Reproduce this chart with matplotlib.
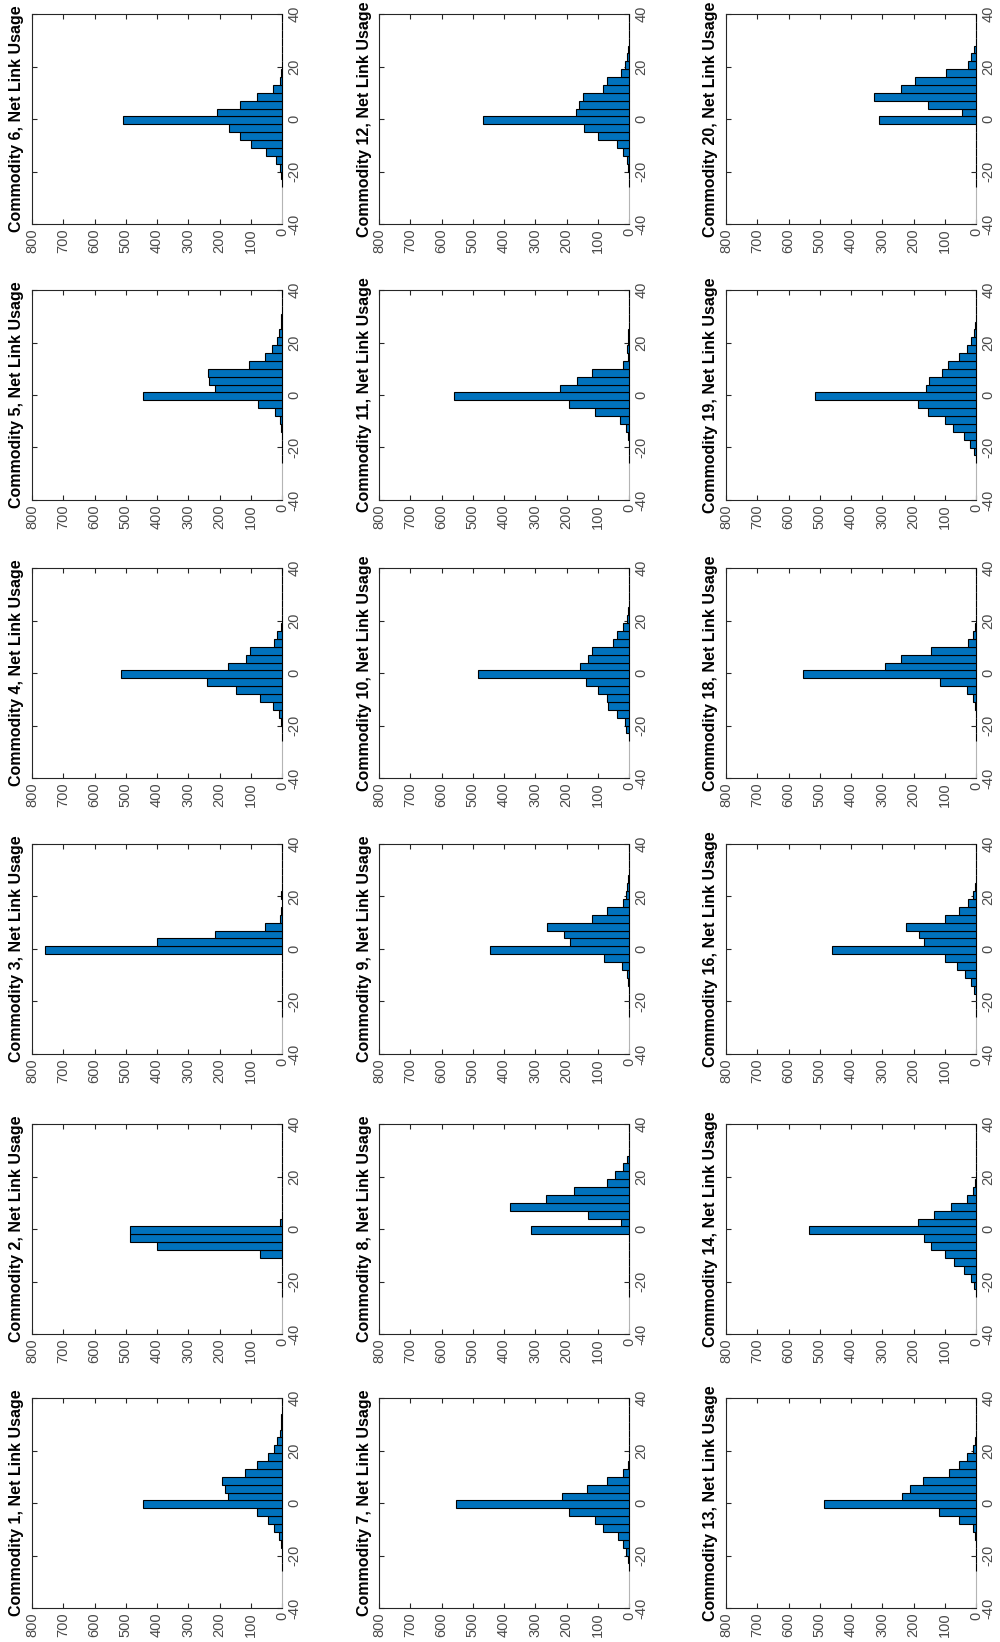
import matplotlib
matplotlib.use("Agg")
import matplotlib.pyplot as plt
import numpy as np

plt.rcParams['font.family'] = ['Liberation Sans', 'DejaVu Sans']
plt.rcParams['axes.unicode_minus'] = False

# histogram bin edges (net link usage)
edges = [-26, -23, -20, -17, -14, -11, -8, -5, -2, 1, 4, 7, 10, 13, 16, 19, 22, 25, 28, 31, 34, 37, 40]

commodities = [1, 2, 3, 4, 5, 6, 7, 8, 9, 10, 11, 12, 13, 14, 16, 18, 19, 20]

# counts per bin, one list per commodity
c1 = [0, 0, 1, 4, 11, 27, 45, 80, 446, 174, 183, 191, 119, 80, 45, 27, 15, 5, 2, 2, 1, 1]
c2 = [0, 0, 0, 0, 0, 71, 399, 486, 486, 5, 0, 0, 0, 0, 0, 0, 0, 0, 0, 0, 0, 0]
c3 = [0, 0, 0, 0, 0, 0, 1, 1, 760, 401, 213, 55, 7, 4, 1, 3, 1, 1, 0, 0, 0, 0]
c4 = [0, 1, 4, 11, 29, 71, 146, 239, 515, 174, 114, 103, 27, 16, 3, 1, 0, 0, 0, 0, 0, 0]
c5 = [0, 0, 0, 1, 3, 7, 23, 77, 444, 213, 233, 238, 105, 53, 31, 15, 10, 3, 2, 1, 1, 1]
c6 = [1, 3, 7, 18, 52, 98, 133, 169, 510, 207, 133, 79, 29, 7, 2, 0, 0, 0, 0, 0, 0, 0]
c7 = [0, 2, 9, 18, 35, 82, 110, 191, 553, 216, 133, 69, 18, 2, 0, 0, 0, 0, 0, 0, 0, 0]
c8 = [0, 0, 0, 0, 0, 0, 0, 0, 314, 27, 131, 381, 266, 176, 71, 46, 18, 5, 0, 0, 0, 0]
c9 = [0, 0, 1, 1, 2, 5, 24, 80, 444, 189, 207, 261, 117, 69, 20, 11, 7, 3, 1, 1, 0, 0]
c10 = [0, 9, 13, 39, 66, 71, 98, 139, 484, 157, 130, 120, 50, 39, 18, 7, 3, 1, 0, 0, 0, 0]
c11 = [0, 0, 0, 2, 10, 29, 110, 191, 561, 221, 167, 119, 20, 2, 5, 2, 2, 0, 0, 0, 0, 0]
c12 = [0, 0, 2, 5, 18, 37, 98, 144, 468, 170, 160, 147, 82, 69, 27, 13, 7, 2, 0, 0, 0, 0]
c13 = [0, 0, 0, 0, 2, 10, 55, 120, 487, 237, 210, 170, 87, 55, 30, 10, 3, 1, 0, 0, 0, 0]
c14 = [0, 5, 15, 40, 70, 100, 145, 165, 535, 185, 135, 80, 30, 10, 3, 0, 0, 0, 0, 0, 0, 0]
c16 = [0, 0, 0, 5, 15, 35, 60, 100, 460, 165, 183, 223, 100, 55, 25, 10, 3, 1, 0, 0, 0, 0]
c18 = [0, 0, 0, 0, 2, 10, 30, 115, 555, 290, 240, 145, 25, 10, 3, 1, 0, 0, 0, 0, 0, 0]
c19 = [0, 5, 20, 40, 75, 100, 155, 185, 515, 160, 150, 110, 90, 55, 30, 15, 5, 2, 0, 0, 0, 0]
c20 = [0, 0, 0, 0, 0, 0, 0, 0, 310, 45, 155, 325, 240, 195, 95, 25, 15, 5, 0, 0, 0, 0]

counts = [c1, c2, c3, c4, c5, c6, c7, c8, c9, c10, c11, c12, c13, c14, c16, c18, c19, c20]

W, H = 1000, 1642
col_left = [32, 379, 726]                      # px, rotated page columns
row_top = [14, 290, 568, 844, 1124, 1398]      # px, top to bottom
ax_w, ax_h = 250, 210

edges = np.array(edges)
centers = (edges[:-1] + edges[1:]) / 2
binw = edges[1] - edges[0]

fig = plt.figure(figsize=(W / 100, H / 100), dpi=100)

for k, (num, cnt) in enumerate(zip(commodities, counts)):
    r, c = k // 6, k % 6
    left = col_left[r] / W
    top = row_top[5 - c]
    bottom = 1 - (top + ax_h) / H
    ax = fig.add_axes([left, bottom, ax_w / W, ax_h / H])

    ax.barh(centers, cnt, height=binw, color='#0072BD', edgecolor='black',
            linewidth=0.8, clip_on=False, zorder=3)
    ax.set_xlim(800, 0)
    ax.set_ylim(-40, 40)
    ax.set_xticks(range(0, 801, 100))
    ax.set_yticks([-40, -20, 0, 20, 40])
    ax.yaxis.tick_right()
    ax.tick_params(axis='both', direction='in', length=3.5, width=0.8,
                   top=True, bottom=True, left=True, right=True,
                   labelleft=False, labelright=True,
                   labelsize=10.5, labelcolor='#4a4a4a', colors='#262626')
    ax.tick_params(axis='x', pad=3)
    ax.tick_params(axis='y', pad=4)
    for lab in ax.get_xticklabels():
        lab.set_rotation(90)
    for lab in ax.get_yticklabels():
        lab.set_rotation(90)
        lab.set_va('center')

    for side in ['left', 'top', 'bottom']:
        ax.spines[side].set_color('#262626')
        ax.spines[side].set_linewidth(0.8)
    ax.spines['right'].set_color('#b4b4b4')
    ax.spines['right'].set_linewidth(0.8)

    ax.text(-0.03, 0.5, f'Commodity {num}, Net Link Usage', rotation=90,
            ha='right', va='center', transform=ax.transAxes,
            fontsize=11.5, fontweight='bold')

fig.savefig('out.png', dpi=100)
